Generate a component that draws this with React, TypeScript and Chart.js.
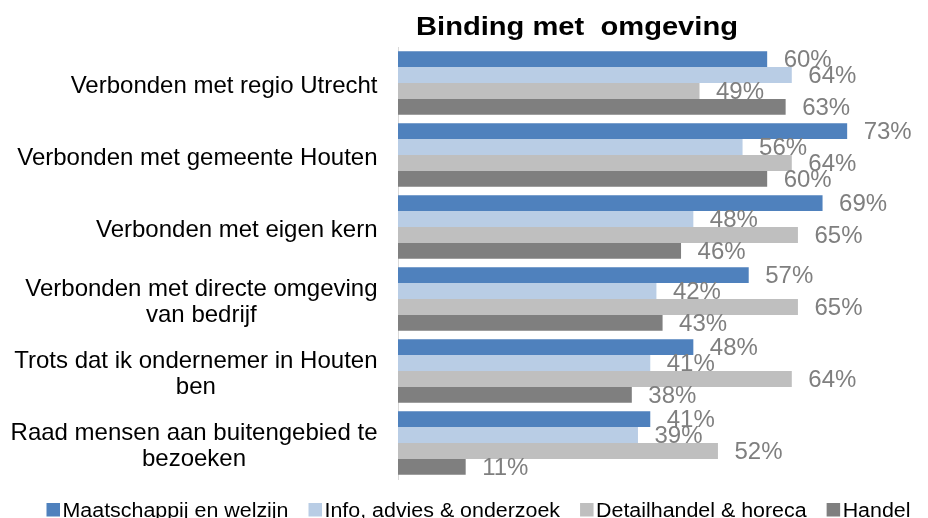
import React, { useEffect, useRef } from "react";
import { Chart, registerables } from "chart.js";

Chart.register(...registerables);

const chartTitle = "Binding met  omgeving";

const categories: string[][] = [
  ["Verbonden met regio Utrecht"],
  ["Verbonden met gemeente Houten"],
  ["Verbonden met eigen kern"],
  ["Verbonden met directe omgeving", "van bedrijf"],
  ["Trots dat ik ondernemer in Houten", "ben"],
  ["Raad mensen aan buitengebied te", "bezoeken"],
];

const seriesNames = [
  "Maatschappij en welzijn",
  "Info, advies & onderzoek",
  "Detailhandel & horeca",
  "Handel",
];

const maatschappijValues = [60, 73, 69, 57, 48, 41];
const infoValues = [64, 56, 48, 42, 41, 39];
const detailhandelValues = [49, 64, 65, 65, 64, 52];
const handelValues = [63, 60, 46, 43, 38, 11];

const seriesValues = [maatschappijValues, infoValues, detailhandelValues, handelValues];
const seriesColors = ["#4F81BD", "#B9CDE5", "#BFBFBF", "#7F7F7F"];

const FONT = '"Liberation Sans", Arial, sans-serif';

const drawingPlugin = {
  id: "customDrawing",
  afterDatasetsDraw(chart: any) {
    const ctx = chart.ctx as CanvasRenderingContext2D;
    ctx.save();
    ctx.font = `24px ${FONT}`;
    ctx.fillStyle = "#7F7F7F";
    ctx.textAlign = "left";
    ctx.textBaseline = "middle";
    chart.data.datasets.forEach((ds: any, di: number) => {
      const meta = chart.getDatasetMeta(di);
      meta.data.forEach((el: any, i: number) => {
        ctx.fillText(`${ds.data[i]}%`, el.x + 16.5, el.y + 1.5);
      });
    });
    ctx.restore();
  },
  afterDraw(chart: any) {
    const ctx = chart.ctx as CanvasRenderingContext2D;
    const area = chart.chartArea;
    const yScale = chart.scales.y;

    // Title
    ctx.save();
    ctx.font = `bold 26px ${FONT}`;
    ctx.fillStyle = "#000000";
    ctx.textAlign = "center";
    ctx.textBaseline = "alphabetic";
    ctx.translate(area.left + 179, 35);
    ctx.scale(1.12, 1);
    ctx.fillText(chartTitle, 0, 0);
    ctx.restore();

    // Category labels: right-aligned blocks, lines centered within block
    ctx.save();
    ctx.font = `24px ${FONT}`;
    ctx.fillStyle = "#000000";
    ctx.textBaseline = "alphabetic";
    const rightEdge = area.left - 20.5;
    const lineH = 26;
    categories.forEach((lines, i) => {
      const cy = yScale.getPixelForValue(i);
      const widest = Math.max(...lines.map((l) => ctx.measureText(l).width));
      const cx = rightEdge - widest / 2;
      const n = lines.length;
      lines.forEach((line, li) => {
        const by = cy + 9.5 + (li - (n - 1) / 2) * lineH;
        ctx.textAlign = "center";
        ctx.fillText(line, cx, by);
      });
    });
    ctx.restore();

    // Legend
    ctx.save();
    const legendScale = 1.07;
    ctx.font = `20px ${FONT}`;
    ctx.textBaseline = "alphabetic";
    ctx.textAlign = "left";
    let x = 46.5;
    const box = 13.5;
    const baseline = 516.7;
    seriesNames.forEach((name, i) => {
      ctx.fillStyle = seriesColors[i];
      ctx.fillRect(x, 503, box, box);
      x += box + 2.5;
      const w = ctx.measureText(name).width * legendScale;
      ctx.save();
      ctx.translate(x, baseline);
      ctx.scale(legendScale, 1);
      ctx.fillStyle = "#000000";
      ctx.fillText(name, 0, 0);
      ctx.restore();
      x += w + 20;
    });
    ctx.restore();
  },
};

export default function App() {
  const ref = useRef<HTMLCanvasElement>(null);

  useEffect(() => {
    document.body.style.margin = "0";
    const canvas = ref.current;
    if (!canvas) return;
    const chart = new Chart(canvas, {
      type: "bar",
      data: {
        labels: categories.map((c) => c.join(" ")),
        datasets: seriesNames.map((name, i) => ({
          label: name,
          data: seriesValues[i],
          backgroundColor: seriesColors[i],
          borderWidth: 0,
          categoryPercentage: 0.883,
          barPercentage: 1,
        })),
      },
      options: {
        indexAxis: "y",
        responsive: false,
        maintainAspectRatio: false,
        animation: false,
        layout: { padding: { left: 0, right: 7, top: 47, bottom: 39 } },
        plugins: {
          legend: { display: false },
          title: { display: false },
          tooltip: { enabled: false },
        },
        scales: {
          x: { display: false, min: 0, max: 85 },
          y: {
            display: true,
            grid: { display: false },
            border: { display: true, color: "#D9D9D9", width: 1 },
            ticks: { display: false },
            afterFit: (s: any) => {
              s.width = 398;
            },
          },
        },
      },
      plugins: [drawingPlugin],
    } as any);
    return () => chart.destroy();
  }, []);

  return (
    <canvas
      ref={ref}
      width={928}
      height={518}
      style={{ display: "block", width: "928px", height: "518px" }}
    />
  );
}
